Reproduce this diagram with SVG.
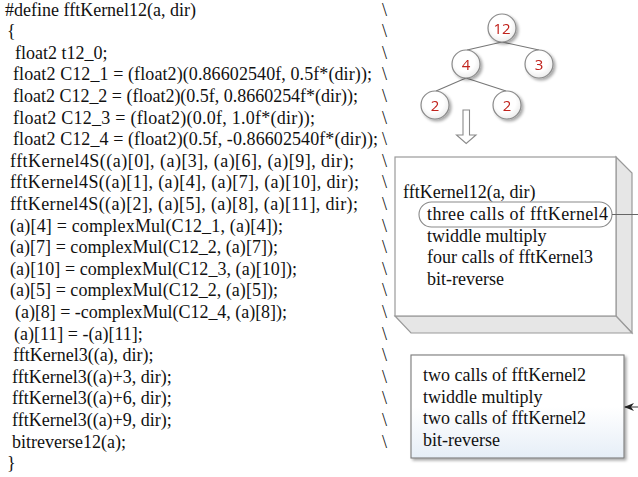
<svg xmlns="http://www.w3.org/2000/svg" width="638" height="477" viewBox="0 0 638 477">
<style>
.code{font-family:"Liberation Serif","Times New Roman",serif;font-size:18px;fill:#111}
.num{font-family:"Open Sans","Noto Sans",sans-serif;font-size:15px;fill:#c0201a;text-anchor:middle}
.circ{fill:url(#cg);stroke:#8a8a8a;stroke-width:1.2}
.edge{stroke:#777;stroke-width:1.1;fill:none}
.face{fill:#fff;stroke:#9a9a9a;stroke-width:1.2}
.side{fill:#e6e6e6;stroke:#9a9a9a;stroke-width:1.2}
</style>
<defs>
<radialGradient id="cg" cx="0.45" cy="0.4" r="0.6">
<stop offset="0.6" stop-color="#ffffff"/>
<stop offset="1" stop-color="#ececec"/>
</radialGradient>
<linearGradient id="bg2" x1="0" y1="0" x2="0" y2="1">
<stop offset="0.5" stop-color="#ffffff"/>
<stop offset="1" stop-color="#e6eef7"/>
</linearGradient>
<filter id="sh" x="-10%" y="-10%" width="130%" height="130%">
<feGaussianBlur in="SourceAlpha" stdDeviation="1.5"/>
<feOffset dx="2" dy="2" result="o"/>
<feComponentTransfer><feFuncA type="linear" slope="0.35"/></feComponentTransfer>
<feMerge><feMergeNode/><feMergeNode in="SourceGraphic"/></feMerge>
</filter>
<marker id="ah" markerWidth="10" markerHeight="8" refX="9" refY="4" orient="auto" markerUnits="userSpaceOnUse">
<path d="M0,0 L10,4 L0,8 L3,4 Z" fill="#222"/>
</marker>
</defs>
<rect width="638" height="477" fill="#fff"/>

<g id="code">
<text class="code" x="5" y="15.5">#define fftKernel12(a, dir)</text>
<text class="code" x="7" y="37.1">{</text>
<text class="code" x="15" y="58.7">float2 t12_0;</text>
<text class="code" x="13" y="80.3" textLength="359" lengthAdjust="spacing">float2 C12_1 = (float2)(0.86602540f, 0.5f*(dir));</text>
<text class="code" x="13" y="101.9" textLength="345" lengthAdjust="spacing">float2 C12_2 = (float2)(0.5f, 0.8660254f*(dir));</text>
<text class="code" x="13" y="123.5" textLength="302" lengthAdjust="spacing">float2 C12_3 = (float2)(0.0f, 1.0f*(dir));</text>
<text class="code" x="13" y="145.1" textLength="365" lengthAdjust="spacing">float2 C12_4 = (float2)(0.5f, -0.86602540f*(dir));</text>
<text class="code" x="10" y="166.7" textLength="344" lengthAdjust="spacing">fftKernel4S((a)[0], (a)[3], (a)[6], (a)[9], dir);</text>
<text class="code" x="10" y="188.3" textLength="349" lengthAdjust="spacing">fftKernel4S((a)[1], (a)[4], (a)[7], (a)[10], dir);</text>
<text class="code" x="10" y="209.9" textLength="348" lengthAdjust="spacing">fftKernel4S((a)[2], (a)[5], (a)[8], (a)[11], dir);</text>
<text class="code" x="10" y="231.5" textLength="273" lengthAdjust="spacing">(a)[4] = complexMul(C12_1, (a)[4]);</text>
<text class="code" x="10" y="253.1" textLength="268" lengthAdjust="spacing">(a)[7] = complexMul(C12_2, (a)[7]);</text>
<text class="code" x="10" y="274.7" textLength="287" lengthAdjust="spacing">(a)[10] = complexMul(C12_3, (a)[10]);</text>
<text class="code" x="10" y="296.3" textLength="268" lengthAdjust="spacing">(a)[5] = complexMul(C12_2, (a)[5]);</text>
<text class="code" x="15" y="317.9" textLength="272" lengthAdjust="spacing">(a)[8] = -complexMul(C12_4, (a)[8]);</text>
<text class="code" x="14" y="339.5">(a)[11] = -(a)[11];</text>
<text class="code" x="13" y="361.1">fftKernel3((a), dir);</text>
<text class="code" x="12" y="382.7">fftKernel3((a)+3, dir);</text>
<text class="code" x="12" y="404.3">fftKernel3((a)+6, dir);</text>
<text class="code" x="12" y="425.9">fftKernel3((a)+9, dir);</text>
<text class="code" x="12" y="447.5">bitreverse12(a);</text>
<text class="code" x="7" y="469.1">}</text>
<g class="code">
<text x="382" y="15.5">\</text><text x="382" y="37.1">\</text><text x="382" y="58.7">\</text>
<text x="382" y="80.3">\</text><text x="382" y="101.9">\</text><text x="382" y="123.5">\</text>
<text x="382" y="145.1">\</text><text x="382" y="166.7">\</text><text x="382" y="188.3">\</text>
<text x="382" y="209.9">\</text><text x="382" y="231.5">\</text><text x="382" y="253.1">\</text>
<text x="382" y="274.7">\</text><text x="382" y="296.3">\</text><text x="382" y="317.9">\</text>
<text x="382" y="339.5">\</text><text x="382" y="361.1">\</text><text x="382" y="382.7">\</text>
<text x="382" y="404.3">\</text><text x="382" y="425.9">\</text><text x="382" y="447.5">\</text>
</g>
</g>

<g id="tree-edges">
<line class="edge" x1="502" y1="42" x2="467" y2="50"/>
<line class="edge" x1="502" y1="42" x2="539" y2="50"/>
<line class="edge" x1="466" y1="78" x2="436" y2="91"/>
<line class="edge" x1="466" y1="78" x2="506" y2="91"/>
</g>
<g id="n12" filter="url(#sh)"><circle class="circ" cx="502" cy="28" r="14"/><text class="num" x="502" y="33.5">12</text></g>
<g id="n4" filter="url(#sh)"><circle class="circ" cx="466" cy="64" r="14"/><text class="num" x="466" y="69.5">4</text></g>
<g id="n3" filter="url(#sh)"><circle class="circ" cx="539" cy="64" r="14"/><text class="num" x="539" y="69.5">3</text></g>
<g id="n2a" filter="url(#sh)"><circle class="circ" cx="435" cy="105" r="14"/><text class="num" x="435" y="110.5">2</text></g>
<g id="n2b" filter="url(#sh)"><circle class="circ" cx="507" cy="105" r="14"/><text class="num" x="507" y="110.5">2</text></g>

<g id="down-arrow">
<path d="M463,110 L469.5,110 L469.5,135 L476,135 L466.2,143.5 L456.5,135 L463,135 Z" fill="#fff" stroke="#8a8a8a" stroke-width="1.1"/>
</g>

<g id="box1">
<path class="side" d="M616,157 L632,173 L632,333 L616,316 Z"/>
<path class="side" d="M395,316 L616,316 L632,333 L411,333 Z"/>
<rect class="face" x="395" y="157" width="221" height="159"/>
<text class="code" x="403" y="197.5">fftKernel12(a, dir)</text>
<rect x="419" y="202" width="193" height="25" rx="12.5" fill="#fff" stroke="#8a8a8a" stroke-width="1.1"/>
<text class="code" x="427" y="220" textLength="181" lengthAdjust="spacing">three calls of fftKernel4</text>
<text class="code" x="427" y="241.5">twiddle multiply</text>
<text class="code" x="427" y="263">four calls of fftKernel3</text>
<text class="code" x="427" y="284.5">bit-reverse</text>
</g>

<g id="box2">
<rect x="411" y="355" width="213" height="103" fill="url(#bg2)" stroke="#7a7a7a" stroke-width="1.1" filter="url(#sh)"/>
<text class="code" x="423" y="381">two calls of fftKernel2</text>
<text class="code" x="423" y="402.5">twiddle multiply</text>
<text class="code" x="423" y="424">two calls of fftKernel2</text>
<text class="code" x="423" y="445.5">bit-reverse</text>
</g>

<g id="connectors">
<line x1="612" y1="214.5" x2="638" y2="214.5" stroke="#666" stroke-width="1"/>
<line x1="638" y1="407" x2="625" y2="407" stroke="#333" stroke-width="1" marker-end="url(#ah)"/>
</g>
</svg>
